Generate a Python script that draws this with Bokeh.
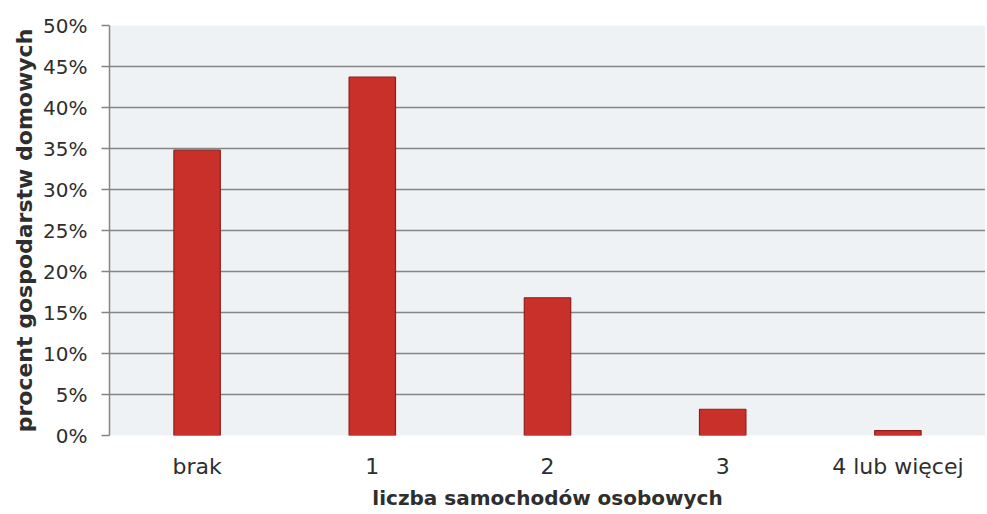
from bokeh.plotting import figure
from bokeh.models import ColumnDataSource, NumeralTickFormatter, FixedTicker
from bokeh.embed import file_html
from bokeh.resources import INLINE

categories = ["brak", "1", "2", "3", "4 lub więcej"]
shares = [0.348, 0.437, 0.168, 0.032, 0.006]
y_ticks = [0.0, 0.05, 0.10, 0.15, 0.20, 0.25, 0.30, 0.35, 0.40, 0.45, 0.50]

src = ColumnDataSource(data=dict(cat=categories, val=shares))

p = figure(x_range=categories, y_range=(0, 0.5), width=985, height=512,
           output_backend="svg", toolbar_location=None,
           min_border_left=109, min_border_right=0, min_border_top=25, min_border_bottom=77)

p.vbar(x="cat", top="val", width=0.265, source=src,
       fill_color="#c9302a", line_color="#8e1f1a", line_width=1.2)

p.background_fill_color = "#eff2f5"
p.border_fill_color = "white"
p.outline_line_color = None

p.yaxis.ticker = FixedTicker(ticks=y_ticks)
p.yaxis.formatter = NumeralTickFormatter(format="0%")
p.yaxis.axis_line_color = "#858585"
p.yaxis.axis_line_width = 1.5
p.yaxis.major_tick_out = 8
p.yaxis.major_tick_in = 0
p.yaxis.major_tick_line_color = "#858585"
p.yaxis.major_tick_line_width = 1.5
p.yaxis.minor_tick_line_color = None
p.yaxis.major_label_text_font = "DejaVu Sans"
p.yaxis.major_label_text_font_size = "20px"
p.yaxis.major_label_text_color = "#2e2e2e"
p.yaxis.major_label_standoff = 14
p.yaxis.axis_label = "procent gospodarstw domowych"
p.yaxis.axis_label_text_font = "DejaVu Sans"
p.yaxis.axis_label_text_font_style = "bold"
p.yaxis.axis_label_text_font_size = "22px"
p.yaxis.axis_label_text_color = "#2e2e2e"
p.yaxis.axis_label_standoff = 3

p.xaxis.axis_line_color = None
p.xaxis.major_tick_line_color = None
p.xaxis.minor_tick_line_color = None
p.xaxis.major_label_text_font = "DejaVu Sans"
p.xaxis.major_label_text_font_size = "22px"
p.xaxis.major_label_text_color = "#2e2e2e"
p.xaxis.major_label_standoff = 12
p.xaxis.axis_label = "liczba samochodów osobowych"
p.xaxis.axis_label_text_font = "DejaVu Sans"
p.xaxis.axis_label_text_font_style = "bold"
p.xaxis.axis_label_text_font_size = "20px"
p.xaxis.axis_label_text_color = "#2e2e2e"
p.xaxis.axis_label_standoff = 4

p.xgrid.grid_line_color = None
p.ygrid.grid_line_color = "#858585"
p.ygrid.grid_line_width = 1.5
p.ygrid.ticker = FixedTicker(ticks=y_ticks)

open("out.html", "w").write(file_html(p, INLINE))
